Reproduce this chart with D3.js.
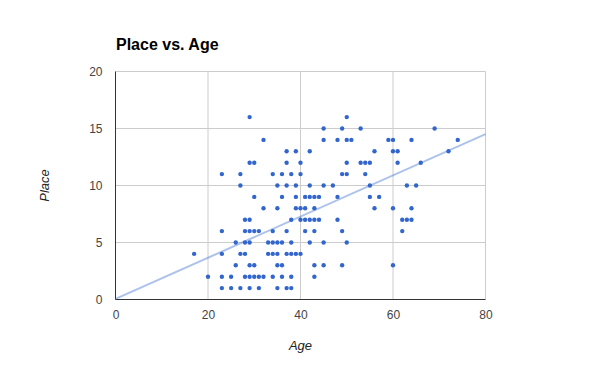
<!DOCTYPE html>
<html>
<head>
<meta charset="utf-8">
<script src="https://cdn.jsdelivr.net/npm/d3@7"></script>
<style>
  body { margin: 0; background: #fff; }
  svg { display: block; font-family: Arial, "Liberation Sans", sans-serif; }
</style>
</head>
<body>
<div id="visualization"></div>
<script>
// Data: one point per runner (age, place)
const ages = [
    23, 25, 27, 29, 31, 35, 37, 38,
    20, 23, 25, 28, 29, 30, 31, 32, 34, 36, 38, 43,
    26, 29, 30, 35, 36, 43, 45, 49, 60,
    17, 23, 27, 28, 33, 34, 35, 37, 38, 39, 40,
    26, 28, 29, 33, 34, 35, 36, 38, 42, 45, 50,
    23, 28, 29, 30, 31, 34, 37, 41, 43, 49, 62,
    28, 29, 38, 40, 41, 42, 43, 44, 48, 62, 63, 64,
    32, 35, 39, 40, 41, 43, 56, 60, 64,
    30, 36, 39, 41, 42, 43, 44, 48, 55, 57,
    27, 35, 37, 39, 42, 45, 47, 55, 63, 65,
    23, 27, 34, 36, 38, 40, 49, 50, 54,
    29, 30, 37, 40, 50, 53, 54, 55, 61, 66,
    37, 39, 42, 56, 60, 61, 72,
    32, 45, 48, 50, 51, 59, 60, 64, 74,
    45, 49, 53, 69,
    29, 50
];
const places = [
    1, 1, 1, 1, 1, 1, 1, 1,
    2, 2, 2, 2, 2, 2, 2, 2, 2, 2, 2, 2,
    3, 3, 3, 3, 3, 3, 3, 3, 3,
    4, 4, 4, 4, 4, 4, 4, 4, 4, 4, 4,
    5, 5, 5, 5, 5, 5, 5, 5, 5, 5, 5,
    6, 6, 6, 6, 6, 6, 6, 6, 6, 6, 6,
    7, 7, 7, 7, 7, 7, 7, 7, 7, 7, 7, 7,
    8, 8, 8, 8, 8, 8, 8, 8, 8,
    9, 9, 9, 9, 9, 9, 9, 9, 9, 9,
    10, 10, 10, 10, 10, 10, 10, 10, 10, 10,
    11, 11, 11, 11, 11, 11, 11, 11, 11,
    12, 12, 12, 12, 12, 12, 12, 12, 12, 12,
    13, 13, 13, 13, 13, 13, 13,
    14, 14, 14, 14, 14, 14, 14, 14, 14,
    15, 15, 15, 15,
    16, 16
];

// Linear trendline, end points
const trendAges = [0, 80];
const trendPlaces = [0.05, 14.5];

const xTicks = [0, 20, 40, 60, 80];
const yTicks = [0, 5, 10, 15, 20];

const points = ages.map((a, i) => ({ age: a, place: places[i] }));
const trend = trendAges.map((a, i) => ({ age: a, place: trendPlaces[i] }));

// Dimensions of the SVG container
const W = 600, H = 371;
const margin = { top: 71.5, right: 114.5, bottom: 71.5, left: 115.5 };

const svg = d3.select("#visualization").append("svg")
    .attr("width", W)
    .attr("height", H);

const x = d3.scaleLinear()
    .domain([0, 80])
    .range([margin.left, W - margin.right]);

const y = d3.scaleLinear()
    .domain([0, 20])
    .range([H - margin.bottom, margin.top]);

// Title
svg.append("text")
    .attr("x", 116)
    .attr("y", 50)
    .attr("font-size", "16px")
    .attr("font-weight", "bold")
    .attr("fill", "#000")
    .text("Place vs. Age");

// Gridlines
svg.append("g")
    .selectAll("line")
    .data(xTicks.filter(d => d > 0))
  .enter().append("line")
    .attr("x1", d => x(d)).attr("x2", d => x(d))
    .attr("y1", y(0)).attr("y2", y(20))
    .attr("stroke", "#ccc");

svg.append("g")
    .selectAll("line")
    .data(yTicks.filter(d => d > 0))
  .enter().append("line")
    .attr("x1", x(0)).attr("x2", x(80))
    .attr("y1", d => y(d)).attr("y2", d => y(d))
    .attr("stroke", "#ccc");

// Baselines
svg.append("line")
    .attr("x1", x(0)).attr("x2", x(0))
    .attr("y1", y(0)).attr("y2", y(20))
    .attr("stroke", "#333");

svg.append("line")
    .attr("x1", x(0)).attr("x2", x(80))
    .attr("y1", y(0)).attr("y2", y(0))
    .attr("stroke", "#333");

// Axes (labels only, the lines are drawn above)
const xAxis = svg.append("g")
    .attr("transform", "translate(0," + y(0) + ")")
    .call(d3.axisBottom(x).tickValues(xTicks).tickSize(0).tickPadding(11));
xAxis.select(".domain").remove();
xAxis.selectAll("text")
    .attr("font-size", "12px")
    .attr("font-family", "Arial, 'Liberation Sans', sans-serif")
    .attr("fill", "#444");

const yAxis = svg.append("g")
    .attr("transform", "translate(" + x(0) + ",0)")
    .call(d3.axisLeft(y).tickValues(yTicks).tickSize(0).tickPadding(13));
yAxis.select(".domain").remove();
yAxis.selectAll("text")
    .attr("font-size", "12px")
    .attr("font-family", "Arial, 'Liberation Sans', sans-serif")
    .attr("fill", "#444");

// Axis titles
svg.append("text")
    .attr("x", (x(0) + x(80)) / 2)
    .attr("y", 350)
    .attr("text-anchor", "middle")
    .attr("font-size", "13px")
    .attr("font-style", "italic")
    .attr("fill", "#222")
    .text("Age");

svg.append("text")
    .attr("transform", "translate(49," + (y(0) + y(20)) / 2 + ") rotate(-90)")
    .attr("text-anchor", "middle")
    .attr("font-size", "13px")
    .attr("font-style", "italic")
    .attr("fill", "#222")
    .text("Place");

// Trendline
const line = d3.line()
    .x(d => x(d.age))
    .y(d => y(d.place));

svg.append("path")
    .datum(trend)
    .attr("fill", "none")
    .attr("stroke", "#3366cc")
    .attr("stroke-opacity", 0.4)
    .attr("stroke-width", 2)
    .attr("d", line);

// Points
svg.selectAll(".dot")
    .data(points)
  .enter().append("circle")
    .attr("class", "dot")
    .attr("cx", d => x(d.age))
    .attr("cy", d => y(d.place))
    .attr("r", 2.2)
    .attr("fill", "#3366cc");
</script>
</body>
</html>
